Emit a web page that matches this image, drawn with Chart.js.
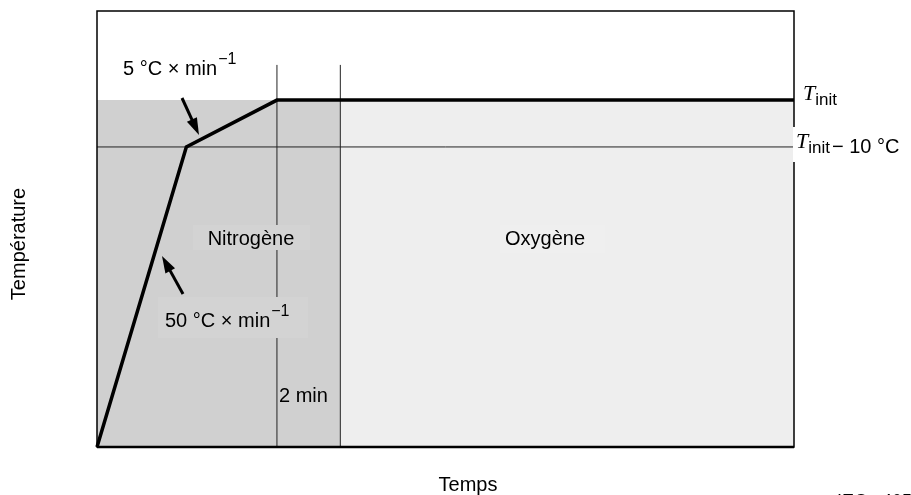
<!DOCTYPE html>
<html>
<head>
<meta charset="utf-8">
<script src="https://cdn.jsdelivr.net/npm/chart.js@4/dist/chart.umd.min.js"></script>
<style>
  body { margin: 0; background: #fff; }
  canvas { display: block; }
</style>
</head>
<body>
<canvas id="chart" width="911" height="495"></canvas>
<script>
// time in minutes, temperature in arbitrary units (Tinit = 74)
const profileTime = [0, 2.82, 5.68, 22];
const profileTemp = [0, 64, 74, 74];

const tInit = 74;
const tInitMinus10 = 64;

// nitrogen phase ends 2 min after Tinit is reached
const markerTimes = [5.68, 7.68];
const markerTop = 81.5;

const nitrogenSpan = [0, 7.68];
const oxygenSpan = [7.68, 22];

const xRange = [0, 22];
const yRange = [0, 93];

const FONT = "'Liberation Sans', Arial, sans-serif";

function toPoints(xs, ys) {
  let pts = [];
  for (let i = 0; i < xs.length; i++) {
    pts.push({ x: xs[i], y: ys[i] });
  }
  return pts;
}

function arrow(ctx, x1, y1, x2, y2) {
  //tail (x1,y1) -> tip (x2,y2)
  let ang = Math.atan2(y2 - y1, x2 - x1);
  let headLen = 17, headW = 5.5;
  let bx = x2 - headLen * Math.cos(ang);
  let by = y2 - headLen * Math.sin(ang);
  ctx.save();
  ctx.strokeStyle = '#000';
  ctx.fillStyle = '#000';
  ctx.lineWidth = 3;
  ctx.beginPath();
  ctx.moveTo(x1, y1);
  ctx.lineTo(bx + 2 * Math.cos(ang), by + 2 * Math.sin(ang));
  ctx.stroke();
  ctx.beginPath();
  ctx.moveTo(x2, y2);
  ctx.lineTo(bx + headW * Math.sin(ang), by - headW * Math.cos(ang));
  ctx.lineTo(bx - headW * Math.sin(ang), by + headW * Math.cos(ang));
  ctx.closePath();
  ctx.fill();
  ctx.restore();
}

//text with a "−1" exponent
function rateLabel(ctx, text, x, y) {
  ctx.font = '20px ' + FONT;
  ctx.textAlign = 'left';
  ctx.textBaseline = 'alphabetic';
  ctx.fillText(text, x, y);
  let w = ctx.measureText(text).width;
  ctx.font = '16px ' + FONT;
  ctx.fillText('\u22121', x + w + 1, y - 11);
}

function tLabel(ctx, x, y, tail) {
  ctx.textAlign = 'left';
  ctx.textBaseline = 'alphabetic';
  ctx.font = 'italic 22px "Liberation Serif", "Times New Roman", serif';
  ctx.fillText('T', x, y);
  let w = ctx.measureText('T').width;
  ctx.font = '17px ' + FONT;
  ctx.fillText('init', x + w, y + 5);
  if (tail) {
    let w2 = ctx.measureText('init').width;
    ctx.font = '20px ' + FONT;
    ctx.fillText(tail, x + w + w2 + 2, y + 5);
  }
}

const annotations = {
  id: 'annotations',
  afterDatasetsDraw(chart) {
    const ctx = chart.ctx;
    const area = chart.chartArea;
    ctx.save();

    //label boxes that cut the 2 min marker line
    ctx.fillStyle = '#d3d3d3';
    ctx.fillRect(193, 225, 117, 25);
    ctx.fillRect(158, 297, 150, 41);
    ctx.fillStyle = '#efefef';
    ctx.fillRect(500, 225, 105, 28);

    ctx.fillStyle = '#000';
    ctx.font = '20px ' + FONT;
    ctx.textAlign = 'center';
    ctx.textBaseline = 'alphabetic';
    ctx.fillText('Nitrogène', 251, 245);
    ctx.fillText('Oxygène', 545, 245);
    ctx.textAlign = 'left';
    ctx.fillText('2 min', 279, 402);

    rateLabel(ctx, '5 °C × min', 123, 75);
    rateLabel(ctx, '50 °C × min', 165, 327);

    arrow(ctx, 182, 98, 199, 135);
    arrow(ctx, 183, 294, 162, 256);

    //frame
    ctx.strokeStyle = '#000';
    ctx.lineWidth = 1.5;
    ctx.strokeRect(area.left, area.top, area.right - area.left, area.bottom - area.top);
    ctx.lineWidth = 2.5;
    ctx.beginPath();
    ctx.moveTo(area.left, area.bottom);
    ctx.lineTo(area.right, area.bottom);
    ctx.stroke();

    //right side labels
    let yInit = chart.scales.y.getPixelForValue(tInit);
    let yInit10 = chart.scales.y.getPixelForValue(tInitMinus10);
    ctx.fillStyle = '#fff';
    ctx.fillRect(area.right - 1, 127, 911 - area.right + 1, 35);
    ctx.fillStyle = '#000';
    tLabel(ctx, 803, yInit, null);
    tLabel(ctx, 796, yInit10 + 1, '\u2212 10 °C');

    //axis titles
    ctx.font = '20px ' + FONT;
    ctx.textAlign = 'center';
    ctx.textBaseline = 'middle';
    ctx.fillText('Temps', 468, 485);
    ctx.save();
    ctx.translate(19, 244);
    ctx.rotate(-Math.PI / 2);
    ctx.fillText('Température', 0, 0);
    ctx.restore();

    ctx.font = '18px ' + FONT;
    ctx.textAlign = 'left';
    ctx.textBaseline = 'alphabetic';
    ctx.fillText('IEC   405/13', 837, 507);
    ctx.restore();
  }
};

let datasets = [];

datasets.push({
  data: toPoints(nitrogenSpan, [tInit, tInit]),
  showLine: true, borderWidth: 0, borderColor: 'rgba(0,0,0,0)',
  backgroundColor: '#d0d0d0', fill: 'origin', pointRadius: 0, order: 10
});
datasets.push({
  data: toPoints(oxygenSpan, [tInit, tInit]),
  showLine: true, borderWidth: 0, borderColor: 'rgba(0,0,0,0)',
  backgroundColor: '#eeeeee', fill: 'origin', pointRadius: 0, order: 10
});
datasets.push({
  data: toPoints(xRange, [tInitMinus10, tInitMinus10]),
  showLine: true, borderWidth: 1, borderColor: '#222',
  fill: false, pointRadius: 0, order: 5
});
for (let i = 0; i < markerTimes.length; i++) {
  datasets.push({
    data: toPoints([markerTimes[i], markerTimes[i]], [0, markerTop]),
    showLine: true, borderWidth: 1, borderColor: '#222',
    fill: false, pointRadius: 0, order: 5, clip: false
  });
}
datasets.push({
  data: toPoints(profileTime, profileTemp),
  showLine: true, borderWidth: 3.5, borderColor: '#000',
  fill: false, pointRadius: 0, order: 0, clip: false
});

new Chart(document.getElementById('chart'), {
  type: 'scatter',
  data: { datasets: datasets },
  options: {
    responsive: false,
    animation: false,
    layout: { padding: { left: 97, right: 117, top: 11, bottom: 48 } },
    scales: {
      x: { type: 'linear', min: xRange[0], max: xRange[1], display: false },
      y: { type: 'linear', min: yRange[0], max: yRange[1], display: false }
    },
    plugins: {
      legend: { display: false },
      tooltip: { enabled: false }
    }
  },
  plugins: [annotations]
});
</script>
</body>
</html>
